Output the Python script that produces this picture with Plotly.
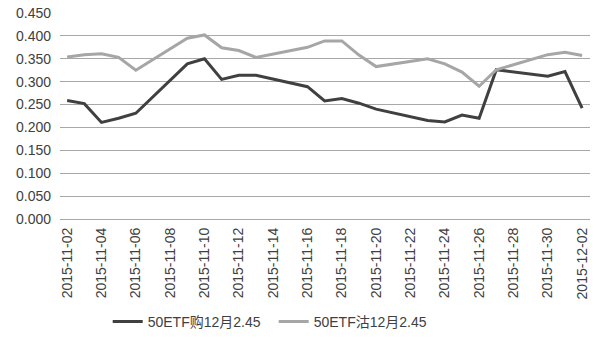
import plotly.graph_objects as go

# Trading days covered by the series
dates = [
    "2015-11-02", "2015-11-03", "2015-11-04", "2015-11-05", "2015-11-06",
    "2015-11-09", "2015-11-10", "2015-11-11", "2015-11-12", "2015-11-13",
    "2015-11-16", "2015-11-17", "2015-11-18", "2015-11-19", "2015-11-20",
    "2015-11-23", "2015-11-24", "2015-11-25", "2015-11-26", "2015-11-27",
    "2015-11-30", "2015-12-01", "2015-12-02",
]

# 50ETF call, Dec 2.45
call_prices = [
    0.259, 0.252, 0.211, 0.220, 0.231,
    0.339, 0.350, 0.305, 0.314, 0.314,
    0.289, 0.258, 0.263, 0.253, 0.240,
    0.215, 0.212, 0.227, 0.220, 0.326,
    0.312, 0.322, 0.242,
]

# 50ETF put, Dec 2.45
put_prices = [
    0.354, 0.359, 0.361, 0.353, 0.325,
    0.395, 0.402, 0.374, 0.368, 0.353,
    0.375, 0.389, 0.389, 0.358, 0.333,
    0.350, 0.339, 0.321, 0.290, 0.326,
    0.359, 0.364, 0.357,
]

tick_dates = [
    "2015-11-02", "2015-11-04", "2015-11-06", "2015-11-08", "2015-11-10",
    "2015-11-12", "2015-11-14", "2015-11-16", "2015-11-18", "2015-11-20",
    "2015-11-22", "2015-11-24", "2015-11-26", "2015-11-28", "2015-11-30",
    "2015-12-02",
]

y_ticks = [0.0, 0.05, 0.10, 0.15, 0.20, 0.25, 0.30, 0.35, 0.40, 0.45]

fig = go.Figure()
fig.add_trace(go.Scatter(
    x=dates, y=call_prices, mode="lines", name="50ETF购12月2.45",
    line=dict(color="#404040", width=3),
))
fig.add_trace(go.Scatter(
    x=dates, y=put_prices, mode="lines", name="50ETF沽12月2.45",
    line=dict(color="#a6a6a6", width=3),
))

fig.update_layout(
    width=600, height=350,
    margin=dict(l=60, r=10, t=13, b=131, autoexpand=False),
    paper_bgcolor="white", plot_bgcolor="white",
    font=dict(family="Liberation Sans, Noto Sans CJK SC", size=14, color="#404040"),
    showlegend=True,
    legend=dict(
        orientation="h", x=0.09, xanchor="left",
        yref="container", y=0.08, yanchor="middle",
        font=dict(family="Liberation Sans, Noto Sans CJK SC", size=14, color="#404040"),
        itemwidth=30, entrywidth=121, bgcolor="rgba(0,0,0,0)",
    ),
    xaxis=dict(
        type="date",
        range=["2015-11-01 14:00", "2015-12-02 11:00"],
        tickmode="array", tickvals=tick_dates, tickformat="%Y-%m-%d",
        tickangle=-90, showgrid=False, ticks="", ticklabelstandoff=5,
        showline=False, zeroline=False, automargin=False,
        tickfont=dict(size=14, color="#404040"),
    ),
    yaxis=dict(
        range=[0, 0.45], tickmode="array", tickvals=y_ticks, tickformat=".3f",
        showgrid=True, gridcolor="#a8a8a8", gridwidth=1,
        zeroline=True, zerolinecolor="#a8a8a8", zerolinewidth=1,
        showline=False, ticks="", ticklabelstandoff=8, automargin=False,
        tickfont=dict(size=14, color="#404040"),
    ),
)

fig.write_html("out.html")
